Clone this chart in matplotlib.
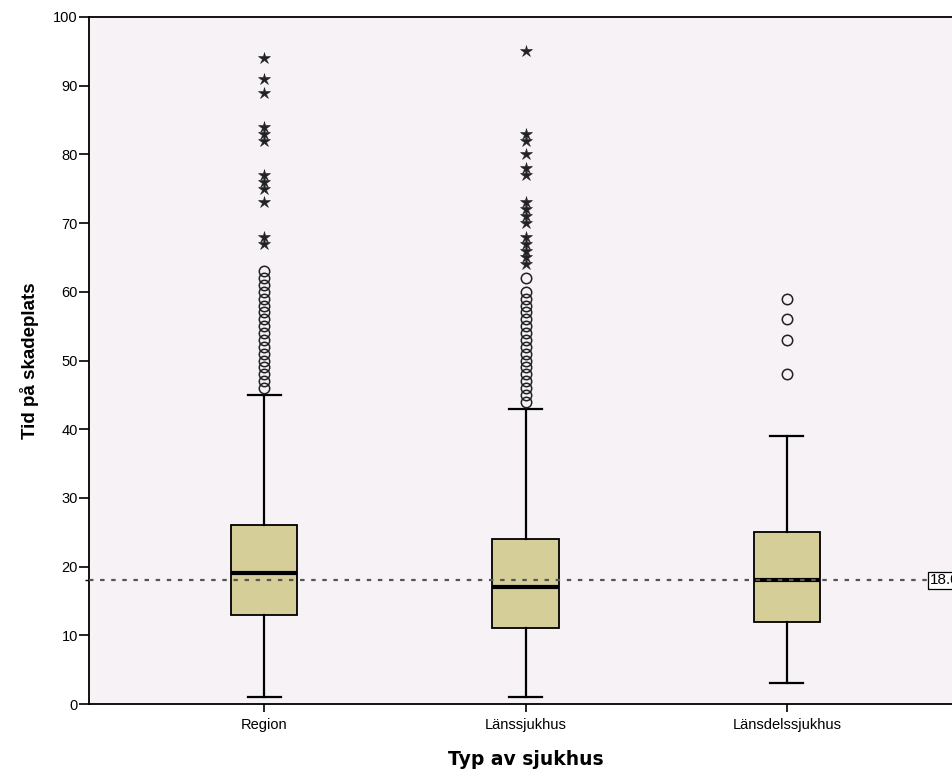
import matplotlib
matplotlib.use("Agg")
import matplotlib.pyplot as plt

# --- Data ---
categories = ["Region", "Länssjukhus", "Länsdelssjukhus"]
q1 = [13, 11, 12]
median = [19, 17, 18]
q3 = [26, 24, 25]
whisker_low = [1, 1, 3]
whisker_high = [45, 43, 39]

# mild outliers (circles) and extreme outliers (stars)
circles = [
    list(range(46, 64)),
    list(range(44, 61)) + [62],
    [48, 53, 56, 59],
]
stars = [
    [67, 68, 73, 75, 76, 77, 82, 83, 84, 89, 91, 94],
    [64, 65, 66, 67, 68, 70, 71, 72, 73, 77, 78, 80, 82, 83, 95],
    [],
]
ref_value = 18.0

# --- Plotting ---
plt.rcParams['font.family'] = ['Liberation Sans', 'DejaVu Sans']

fig = plt.figure(figsize=(9.52, 7.74), dpi=100)
ax = fig.add_axes([89 / 952, 70 / 774, (962 - 89) / 952, 687 / 774])
ax.set_facecolor('#F6F2F6')

stats = []
for i, name in enumerate(categories):
    stats.append({
        'label': name, 'med': median[i], 'q1': q1[i], 'q3': q3[i],
        'whislo': whisker_low[i], 'whishi': whisker_high[i], 'fliers': [],
    })

positions = list(range(len(categories)))
ax.bxp(stats, positions=positions, widths=0.253, patch_artist=True,
       showfliers=False,
       boxprops=dict(facecolor='#D6CE98', edgecolor='black', linewidth=1.3),
       medianprops=dict(color='black', linewidth=3),
       whiskerprops=dict(color='black', linewidth=1.6),
       capprops=dict(color='black', linewidth=1.6),
       capwidths=0.127)

for i in positions:
    ax.plot([i] * len(circles[i]), circles[i], linestyle='none', marker='o',
            markersize=7.5, markerfacecolor='none', markeredgecolor='#222222',
            markeredgewidth=1.1, zorder=4)
    ax.plot([i] * len(stars[i]), stars[i], linestyle='none', marker='*',
            markersize=9, color='#222222', markeredgewidth=0.4, zorder=4)

# reference line
ax.axhline(ref_value, color='#555555', linestyle=(0, (2, 3)), linewidth=1.6, zorder=5)
ax.text(2.548, ref_value, f"{ref_value:.1f}", va='center', ha='left', fontsize=11,
        bbox=dict(boxstyle='square,pad=0.12', facecolor='white', edgecolor='black',
                  linewidth=0.9), zorder=6)

ax.set_xlim(-0.67, 2.67)
ax.set_ylim(0, 100)
ax.set_yticks(range(0, 101, 10))
ax.set_yticks([ref_value], minor=True)
ax.set_xticks(positions)
ax.set_xticklabels(categories)
ax.tick_params(axis='both', direction='out', length=7, width=1.2, labelsize=10.5)
ax.tick_params(axis='y', pad=1)
ax.tick_params(axis='y', which='minor', length=3, width=1)
ax.tick_params(axis='x', length=6, pad=4)

for side in ['left', 'bottom', 'top']:
    ax.spines[side].set_linewidth(1.3)
ax.spines['right'].set_visible(False)

ax.set_ylabel('Tid på skadeplats', fontsize=13.5, fontweight='bold', labelpad=10)
ax.set_xlabel('Typ av sjukhus', fontsize=13.5, fontweight='bold',
              family='DejaVu Sans', labelpad=13)

fig.savefig('out.png', dpi=100)
